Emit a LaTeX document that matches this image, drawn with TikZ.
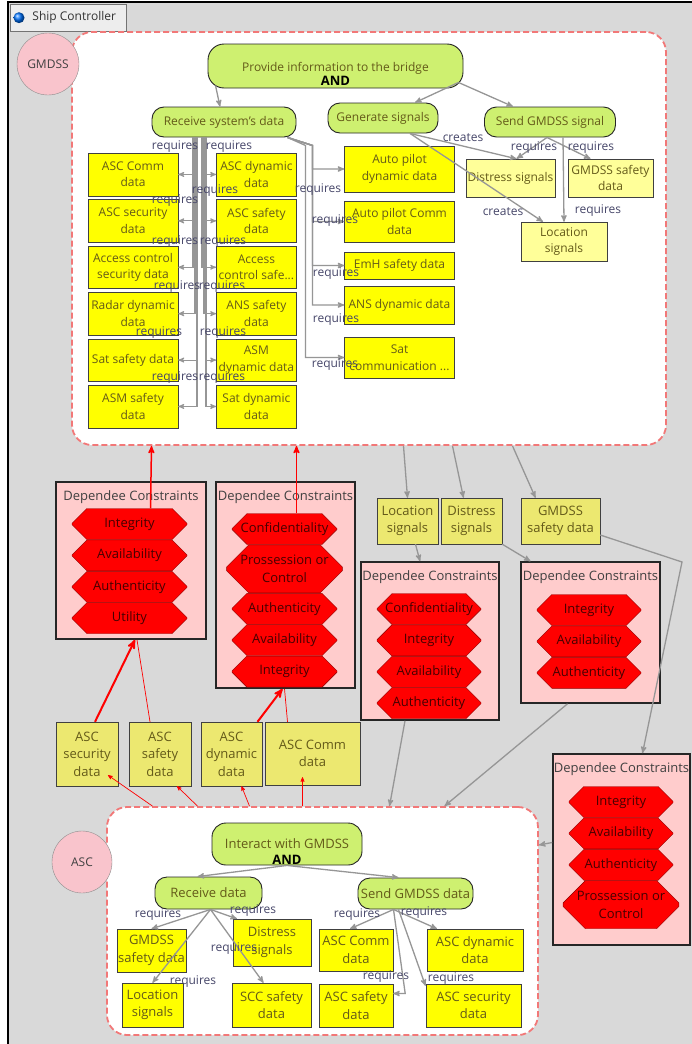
\documentclass[tikz,border=0pt]{standalone}
\usepackage{fontspec}
\setmainfont{Open Sans}
\usepackage{tikz}
\usetikzlibrary{shapes,arrows,positioning}
\usetikzlibrary{shapes.misc,calc}

\definecolor{bggray}{RGB}{217,217,217}
\definecolor{goalgreen}{RGB}{206,240,112}
\definecolor{datayellow}{RGB}{255,255,0}
\definecolor{paleyellow}{RGB}{255,255,153}
\definecolor{khaki}{RGB}{236,232,112}
\definecolor{dcpink}{RGB}{255,204,204}
\definecolor{actpink}{RGB}{249,196,204}
\definecolor{olivetext}{RGB}{100,90,25}
\definecolor{lbltext}{RGB}{70,70,105}
\definecolor{dashred}{RGB}{242,120,120}
\definecolor{arrgray}{RGB}{150,150,150}
\definecolor{proptext}{RGB}{70,0,0}

\newcommand{\andgoal}[1]{\raisebox{-12pt}[7pt][7pt]{\begin{tabular}{@{}c@{}}#1\\[-2pt]{\fontsize{13}{14}\selectfont\bfseries\color{black}AND}\end{tabular}}}

\begin{document}
\begin{tikzpicture}[x=1pt,y=-1pt,>=stealth',node distance=3.5pt,
	every node/.style={font=\fontsize{12}{16.5}\selectfont},
	big/.style={font=\fontsize{13}{17.5}\selectfont},
	tabbox/.style={draw=black!55,fill=black!7,text=black!80,minimum width=116pt,minimum height=27pt,inner xsep=3pt},
	bound/.style={draw=dashred,line width=1.8pt,dash pattern=on 6pt off 3pt,fill=white,rounded corners=20pt},
	actor/.style={draw=black!45,circle,fill=actpink,text=black!75,inner sep=0pt},
	goal/.style={draw=black!85,line width=0.9pt,fill=goalgreen,rounded corners=12pt,text=olivetext,inner sep=1pt},
	datum/.style={draw=black!75,fill=datayellow,text=olivetext,align=center,inner sep=1pt},
	lcol/.style={datum,minimum width=90pt,minimum height=42.5pt},
	mcol/.style={datum,minimum width=80pt,minimum height=42.5pt},
	rcol/.style={datum,minimum width=110pt},
	sigbox/.style={datum,fill=paleyellow},
	outdatum/.style={datum,big,fill=khaki},
	dcbox/.style={draw=black!85,line width=1.6pt,fill=dcpink},
	dctitle/.style={big,text=black!75},
	prop/.style={chamfered rectangle,chamfered rectangle xsep=18pt,chamfered rectangle ysep=8.5pt,draw=red!55!black,fill=red,text=proptext,align=center,inner sep=0pt,minimum width=104pt,minimum height=31pt,big},
	req/.style={->,draw=arrgray,line width=1.3pt},
	bundle/.style={->,draw=arrgray,line width=1.1pt},
	lbl/.style={text=lbltext,inner sep=0pt},
	sec/.style={->,draw=red,line width=1.5pt},
	thinsec/.style={draw=red,line width=0.7pt}]

	% frame
	\useasboundingbox (0,0) rectangle (692,1044);
	\fill[bggray] (8,2) rectangle (692,1044);
	\draw[line width=2pt] (8,1044) -- (8,2) -- (692,2);
	\node[tabbox,anchor=north west] (tab) at (10,4) {\hspace*{12pt}Ship Controller};
	\shade[ball color=blue!55!cyan] ([xshift=9pt]tab.west) circle (5.5pt);

	% GMDSS
	\node[bound,minimum width=594pt,minimum height=413pt] (gmdss) at (369,238.5) {};
	\node[actor,minimum size=62pt] (gmdssact) at (48,64) {GMDSS};
	\node[goal,rounded corners=16pt,minimum width=255pt,minimum height=44pt] (pib) at (335.5,66) {\andgoal{Provide information to the bridge}};
	\node[goal,minimum width=144pt,minimum height=30pt] (rsd) at (224,122) {Receive system's data};
	\node[goal,minimum width=110pt,minimum height=30pt] (gen) at (383,118) {Generate signals};
	\node[goal,minimum width=131pt,minimum height=30pt] (sgs) at (550,122) {Send GMDSS signal};

	\node[lcol,anchor=north] (ascc) at (133,153) {ASC Comm\\data};
	\node[lcol,below=of ascc] (ascsec) {ASC security\\data};
	\node[lcol,below=of ascsec] (acsec) {Access control\\security data};
	\node[lcol,below=of acsec] (radar) {Radar dynamic\\data};
	\node[lcol,below=of radar] (satsaf) {Sat safety data};
	\node[lcol,below=of satsaf] (asmsaf) {ASM safety\\data};
	\node[mcol,right=38pt of ascc] (ascdyn) {ASC dynamic\\data};
	\node[mcol,below=of ascdyn] (ascsaf) {ASC safety\\data};
	\node[mcol,below=of ascsaf] (acsaf) {Access\\control safe...};
	\node[mcol,below=of acsaf] (anssaf) {ANS safety\\data};
	\node[mcol,below=of anssaf] (asmdyn) {ASM\\dynamic data};
	\node[mcol,below=of asmdyn] (satdyn) {Sat dynamic\\data};

	\node[rcol,minimum height=46pt] (apdyn) at (399.5,169) {Auto pilot\\dynamic data};
	\node[rcol,minimum height=41pt] (apcomm) at (399.5,221.5) {Auto pilot Comm\\data};
	\node[rcol,minimum height=27pt] (emh) at (399.5,265.5) {EmH safety data};
	\node[rcol,minimum height=38pt] (ansdyn) at (399.5,305) {ANS dynamic data};
	\node[rcol,minimum height=41pt] (satcomm) at (399.5,357.5) {Sat\\communication ...};

	\node[sigbox,minimum width=89pt,minimum height=38pt] (dist) at (510.5,178) {Distress signals};
	\node[sigbox,minimum width=85pt,minimum height=38pt] (gsafe) at (610.5,178) {GMDSS safety\\data};
	\node[sigbox,minimum width=86pt,minimum height=39pt] (locs) at (564,241.5) {Location\\signals};

	\draw[req] ([xshift=-120pt,yshift=3pt]pib.south) -- ([xshift=-4pt]rsd.north);
	\draw[req] ([xshift=-5pt,yshift=6pt]pib.south east) -- ([xshift=32pt]gen.north);
	\draw[req] ([xshift=-5pt,yshift=6pt]pib.south east) -- ([xshift=-37pt]sgs.north);
	\draw[req] ([xshift=27pt]gen.south) -- ([xshift=6pt]dist.north);
	\draw[req] ([xshift=27pt]gen.south) -- ([xshift=-21pt]locs.north);
	\draw[req] ([xshift=-3pt]sgs.south) -- ([xshift=6pt]dist.north);
	\draw[req] ([xshift=-3pt]sgs.south) -- ([xshift=-20pt]gsafe.north);
	\draw[req] ([xshift=13pt]sgs.south) -- (locs.north);

	\foreach \n/\dx in {ascc/-31,ascsec/-29,acsec/-31,radar/-29,satsaf/-27,asmsaf/-27}
		\draw[bundle] ([xshift=\dx pt]rsd.south) |- (\n.east);
	\foreach \n/\dx in {ascdyn/-22,ascsaf/-20,acsaf/-22,anssaf/-20,asmdyn/-18,satdyn/-18}
		\draw[bundle] ([xshift=\dx pt]rsd.south) |- (\n.west);
	\foreach \n in {apdyn,apcomm,emh,ansdyn}
		\draw[req] ([xshift=-9pt]rsd.south east) -- ++(25,8) |- (\n.west);
	\draw[req] ([xshift=-9pt]rsd.south east) -- ++(18,8) |- (satcomm.west);

	% dependee constraints
	\node[dcbox,minimum width=150pt,minimum height=157pt] (dc1) at (131,560.5) {};
	\node[dctitle] (dc1t) at (131,497) {Dependee Constraints};
	\node[prop,minimum width=115pt] (d1a) at (129.5,524) {Integrity};
	\node[prop,minimum width=115pt,below=0pt of d1a] (d1b) {Availability};
	\node[prop,minimum width=115pt,below=0pt of d1b] (d1c) {Authenticity};
	\node[prop,minimum width=115pt,below=0pt of d1c] (d1d) {Utility};

	\node[dcbox,minimum width=139pt,minimum height=206pt] (dc2) at (285.5,585) {};
	\node[dctitle] (dc2t) at (285.5,497) {Dependee Constraints};
	\node[prop,minimum width=105pt] (d2a) at (284.5,529) {Confidentiality};
	\node[prop,minimum width=105pt,minimum height=48pt,below=0pt of d2a] (d2b) {Prossession or\\Control};
	\node[prop,minimum width=105pt,below=0pt of d2b] (d2c) {Authenticity};
	\node[prop,minimum width=105pt,below=0pt of d2c] (d2d) {Availability};
	\node[prop,minimum width=105pt,below=0pt of d2d] (d2e) {Integrity};

	\node[outdatum,minimum width=61pt,minimum height=46pt] (olocs) at (407.5,521) {Location\\signals};
	\node[outdatum,minimum width=61pt,minimum height=46pt] (odist) at (471.5,521) {Distress\\signals};
	\node[outdatum,minimum width=79pt,minimum height=46pt] (ogsafe) at (560.5,521) {GMDSS\\safety data};

	\node[dcbox,minimum width=138pt,minimum height=158pt] (dc3) at (430,641) {};
	\node[dctitle] (dc3t) at (430,577) {Dependee Constraints};
	\node[prop] (d3a) at (429,609) {Confidentiality};
	\node[prop,below=0pt of d3a] (d3b) {Integrity};
	\node[prop,below=0pt of d3b] (d3c) {Availability};
	\node[prop,below=0pt of d3c] (d3d) {Authenticity};

	\node[dcbox,minimum width=139pt,minimum height=141pt] (dc4) at (590.5,632.5) {};
	\node[dctitle] (dc4t) at (590.5,577) {Dependee Constraints};
	\node[prop] (d4a) at (589,610) {Integrity};
	\node[prop,below=0pt of d4a] (d4b) {Availability};
	\node[prop,below=0pt of d4b] (d4c) {Authenticity};

	\node[dcbox,minimum width=137pt,minimum height=191pt] (dc5) at (621.5,849.5) {};
	\node[dctitle] (dc5t) at (621.5,769) {Dependee Constraints};
	\node[prop] (d5a) at (621,802) {Integrity};
	\node[prop,below=0pt of d5a] (d5b) {Availability};
	\node[prop,below=0pt of d5b] (d5c) {Authenticity};
	\node[prop,minimum height=48pt,below=0pt of d5c] (d5d) {Prossession or\\Control};

	\node[outdatum,minimum width=62pt,minimum height=64pt] (oascsec) at (87,754) {ASC\\security\\data};
	\node[outdatum,minimum width=62pt,minimum height=64pt] (oascsaf) at (160,754) {ASC\\safety\\data};
	\node[outdatum,minimum width=61pt,minimum height=64pt] (oascdyn) at (231.5,754) {ASC\\dynamic\\data};
	\node[outdatum,minimum width=95pt,minimum height=63pt] (oasccomm) at (312.5,753.5) {ASC Comm\\data};

	% ASC
	\node[bound,minimum width=431pt,minimum height=228pt] (asc) at (322.5,921) {};
	\node[actor,ellipse,minimum width=60pt,minimum height=62pt] (ascact) at (82,862) {ASC};
	\node[goal,big,rounded corners=14pt,minimum width=150pt,minimum height=42pt] (iwg) at (287,844) {\andgoal{Interact with GMDSS}};
	\node[goal,big,minimum width=107pt,minimum height=32pt] (rd) at (208.5,893) {Receive data};
	\node[goal,big,minimum width=115pt,minimum height=31pt] (sgd) at (415.5,893.5) {Send GMDSS data};
	\node[datum,big,minimum width=69pt,minimum height=43pt] (lgsafe) at (151.5,950.5) {GMDSS\\safety data};
	\node[datum,big,minimum width=78pt,minimum height=47pt] (ldist) at (272,942.5) {Distress\\signals};
	\node[datum,big,minimum width=61pt,minimum height=44pt] (llocs) at (152.5,1005) {Location\\signals};
	\node[datum,big,minimum width=79pt,minimum height=44pt] (lscc) at (271.5,1005) {SCC safety\\data};
	\node[datum,big,minimum width=74pt,minimum height=42pt] (lasccomm) at (356,950) {ASC Comm\\data};
	\node[datum,big,minimum width=96pt,minimum height=42pt] (lascdyn) at (475,950) {ASC dynamic\\data};
	\node[datum,big,minimum width=74pt,minimum height=43pt] (lascsaf) at (356,1005.5) {ASC safety\\data};
	\node[datum,big,minimum width=95pt,minimum height=43pt] (lascsec) at (473.5,1005.5) {ASC security\\data};

	\draw[req] (iwg.south) -- ([xshift=-11pt]rd.north);
	\draw[req] (iwg.south) -- ([xshift=-17pt]sgd.north);
	\foreach \n/\dx in {lgsafe/0,llocs/0,lscc/-8}
		\draw[req] ([xshift=2pt]rd.south) -- ([xshift=\dx pt]\n.north);
	\draw[req] ([xshift=2pt]rd.south) -- ([xshift=-35pt]ldist.north);
	\draw[req] ([xshift=-22pt]sgd.south) -- ([xshift=-6pt]lasccomm.north);
	\draw[req] ([xshift=-22pt]sgd.south) -- ([xshift=-38pt]lascdyn.north);
	\draw[req] ([xshift=-22pt]sgd.south) -- ([xshift=12pt,yshift=12pt]lascsaf.east) -- ([yshift=12pt]lascsaf.east);
	\draw[req] ([xshift=-17pt]sgd.south) -- ([xshift=-48pt,yshift=-2pt]lascsec.north);

	% links between the actors
	\draw[sec] ([xshift=21pt]d1a.north) -- ([xshift=22pt]d1a.north |- gmdss.south);
	\draw[sec] ([xshift=12pt]d2a.north) -- ([xshift=12pt]d2a.north |- gmdss.south);
	\draw[sec,line width=2pt] ([xshift=8pt]oascsec.north) -- ([xshift=4pt]dc1.south);
	\draw[thinsec] ([xshift=-10pt]oascsaf.north) -- ([xshift=6pt]dc1.south);
	\draw[sec,line width=2pt] ([xshift=26pt]oascdyn.north) -- ([xshift=-3pt]dc2.south);
	\draw[thinsec] ([xshift=-25pt]oasccomm.north) -- ([xshift=-1pt]dc2.south);
	\draw[thinsec,->] ([xshift=-170pt]asc.north) -- ([xshift=21pt,yshift=11pt]oascsec.south);
	\draw[thinsec,->] ([xshift=-125pt]asc.north) -- ([xshift=17pt]oascsaf.south);
	\draw[thinsec,->] ([xshift=-73pt]asc.north) -- ([xshift=10pt]oascdyn.south);
	\draw[thinsec,->] ([xshift=-20pt]asc.north) -- ([xshift=-10pt,yshift=8pt]oasccomm.south);

	\draw[req] ([xshift=-4pt]olocs.north |- gmdss.south) -- (olocs.north);
	\draw[req] ([xshift=-19pt]odist.north |- gmdss.south) -- ([xshift=-8pt]odist.north);
	\draw[req] ([xshift=-48pt]ogsafe.north |- gmdss.south) -- ([xshift=-25pt]ogsafe.north);
	\draw[req] ([xshift=8pt]olocs.south) -- ([xshift=-10pt]dc3.north);
	\draw[req] (odist.south east) -- ([xshift=-60pt]dc4.north);
	\coordinate (gbend) at (682,562);
	\draw[req] ([yshift=-14pt]ogsafe.east) -- (gbend) -- ([xshift=21pt]dc5.north);
	\draw[req] ([xshift=-25pt]dc3.south) -- ([xshift=67pt]asc.north);
	\draw[req] ([xshift=-23pt]dc4.south) -- ([xshift=122pt]asc.north);
	\draw[req] ([yshift=7pt]dc5.west) -- ([yshift=76pt]asc.east);

	% labels
	\foreach \x/\y [count=\i] in {175/147,229/147,215/191,175/201,175/242,223/242,177/287,222/287,159/333,223/333,175/378,222/378,
		318/190,335/221,336/274,336/320,335/365,534/148,591/148,598/211,
		158/915,253/911,193/982,234/949,357/915,424/913,386/977,451/979}
		\node[lbl] (rq\i) at (\x,\y) {requires};
	\node[lbl] (cr1) at (463,138) {creates};
	\node[lbl] (cr2) at (503,212) {creates};
\end{tikzpicture}
\end{document}
